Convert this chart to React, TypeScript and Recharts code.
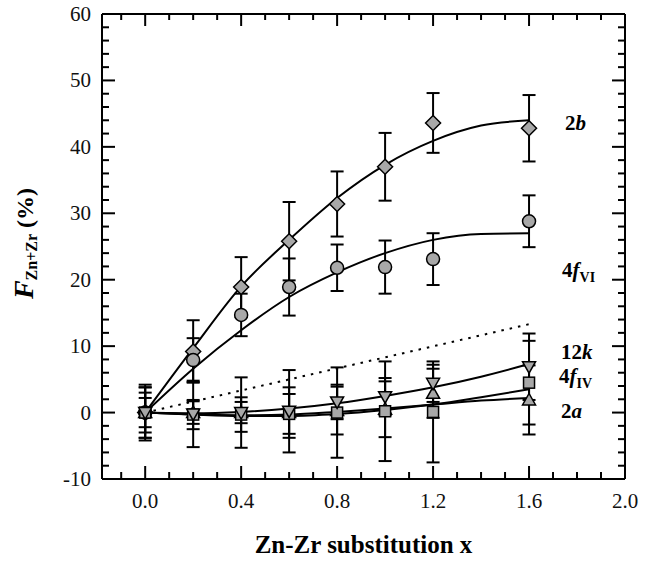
import React from "react";
import { ComposedChart, XAxis, YAxis, Line, Scatter, ErrorBar, ReferenceDot } from "recharts";

// measured points
const xs = [0, 0.2, 0.4, 0.6, 0.8, 1.0, 1.2, 1.6];
const site2b = [0, 9.2, 18.9, 25.8, 31.4, 37.0, 43.6, 42.8];
const site2bErr = [3.8, 4.7, 4.5, 5.9, 4.9, 5.1, 4.5, 5.0];
const site4fVI = [0, 7.9, 14.7, 18.9, 21.8, 21.9, 23.1, 28.8];
const site4fVIErr = [3.8, 3.3, 3.2, 4.3, 3.5, 4.0, 3.9, 3.9];
const site12k = [0, -0.2, 0, 0.2, 1.6, 2.4, 4.4, 6.9];
const site12kErr = [4.2, 5.0, 5.3, 6.2, 2.6, 2.8, 2.8, 5.0];
const site4fIV = [0, -0.3, -0.3, -0.2, 0, 0.2, 0.1, 4.5];
const site4fIVErr = [3.0, 2.2, 2.6, 3.0, 6.8, 7.5, 7.6, 6.3];
const site2a = [0, 0, 0, 0, 0.3, 0.5, 2.9, 1.9];
const site2aErr = [2.2, 1.7, 1.6, 3.8, 3.6, 4.2, 3.7, 5.2];

// fitted curves
const fitXs = [0, 0.2, 0.4, 0.6, 0.8, 1.0, 1.2, 1.4, 1.6];
const fit2b = [0, 9.7, 19.0, 26.0, 32.3, 37.3, 40.9, 43.2, 44.0];
const fit4fVI = [0, 6.6, 12.4, 17.4, 21.1, 24.0, 26.0, 26.9, 27.0];
const fit12k = [0, -0.1, 0.1, 0.6, 1.4, 2.5, 3.8, 5.4, 7.3];
const fit4fIV = [0, -0.3, -0.5, -0.5, -0.2, 0.4, 1.2, 2.3, 3.5];
const fit2a = [0, -0.3, -0.4, -0.3, 0.1, 0.6, 1.2, 1.8, 2.2];
const dottedXs = [0, 1.6];
const dotted = [0, 13.3];

const xTicks = [-0.1, 0, 0.1, 0.2, 0.3, 0.4, 0.5, 0.6, 0.7, 0.8, 0.9, 1.0, 1.1, 1.2, 1.3, 1.4, 1.5, 1.6, 1.7, 1.8, 1.9, 2.0];
const yTicks = [-10, -8, -6, -4, -2, 0, 2, 4, 6, 8, 10, 12, 14, 16, 18, 20, 22, 24, 26, 28, 30, 32, 34, 36, 38, 40, 42, 44, 46, 48, 50, 52, 54, 56, 58, 60];

const pts = (ys: number[], errs: number[]) => xs.map((x, i) => ({ x, y: ys[i], err: errs[i] }));
const curve = (px: number[], ys: number[]) => px.map((x, i) => ({ x, y: ys[i] }));

const FONT = "Liberation Serif, DejaVu Serif, serif";
const GRAY = "#a8a8a8";
const serif = { fontFamily: FONT };

const isMajorX = (v: number) => Math.round(v * 10) % 4 === 0;

const BottomTick = (p: any) => {
  const v = p.payload.value;
  const major = isMajorX(v);
  const y0 = p.y - 1;
  return (
    <g>
      <line x1={p.x} y1={y0} x2={p.x} y2={y0 - (major ? 12 : 6)} stroke="#000" strokeWidth={2} />
      {major && (
        <text x={p.x} y={y0 + 30} textAnchor="middle" style={serif} fontSize={21} fill="#111">
          {v.toFixed(1)}
        </text>
      )}
    </g>
  );
};

const TopTick = (p: any) => {
  const major = isMajorX(p.payload.value);
  return <line x1={p.x} y1={p.y} x2={p.x} y2={p.y + (major ? 12 : 6)} stroke="#000" strokeWidth={2} />;
};

const LeftTick = (p: any) => {
  const v = p.payload.value;
  const major = v % 10 === 0;
  return (
    <g>
      <line x1={p.x} y1={p.y} x2={p.x + (major ? 13 : 7)} y2={p.y} stroke="#000" strokeWidth={2} />
      {major && (
        <text x={p.x - 11} y={p.y + 7} textAnchor="end" style={serif} fontSize={21} fill="#111">
          {v}
        </text>
      )}
    </g>
  );
};

const RightTick = (p: any) => {
  const major = p.payload.value % 10 === 0;
  return <line x1={p.x} y1={p.y} x2={p.x - (major ? 13 : 7)} y2={p.y} stroke="#000" strokeWidth={2} />;
};

const Diamond = (p: any) => (
  <path d={`M${p.cx},${p.cy - 7.5}L${p.cx + 7.5},${p.cy}L${p.cx},${p.cy + 7.5}L${p.cx - 7.5},${p.cy}Z`} fill={GRAY} stroke="#000" strokeWidth={1.5} />
);
const Circle = (p: any) => <circle cx={p.cx} cy={p.cy} r={6.5} fill={GRAY} stroke="#000" strokeWidth={1.5} />;
const Square = (p: any) => <rect x={p.cx - 5.5} y={p.cy - 5.5} width={11} height={11} fill={GRAY} stroke="#000" strokeWidth={1.5} />;
const TriDown = (p: any) => (
  <path d={`M${p.cx - 6.5},${p.cy - 5}L${p.cx + 6.5},${p.cy - 5}L${p.cx},${p.cy + 6.5}Z`} fill={GRAY} stroke="#000" strokeWidth={1.5} />
);
const TriUp = (p: any) => (
  <path d={`M${p.cx - 6.5},${p.cy + 5}L${p.cx + 6.5},${p.cy + 5}L${p.cx},${p.cy - 6.5}Z`} fill={GRAY} stroke="#000" strokeWidth={1.5} />
);

const siteLabel = (dx: number, main: string, ital: string, sub?: string) => (props: any) => {
  const vb = props.viewBox;
  return (
    <text x={vb.x + dx} y={vb.y + 7} style={serif} fontWeight="bold" fontSize={21} fill="#000">
      {main}
      <tspan fontStyle="italic">{ital}</tspan>
      {sub && (
        <tspan fontSize={14} dy={5}>
          {sub}
        </tspan>
      )}
    </text>
  );
};

const XTitle = (props: any) => {
  const vb = props.viewBox;
  return (
    <text x={vb.x + vb.width / 2} y={479 + 74} textAnchor="middle" style={serif} fontWeight="bold" fontSize={25} fill="#000">
      Zn-Zr substitution x
    </text>
  );
};

const YTitle = (props: any) => {
  const vb = props.viewBox;
  const cx = 33;
  const cy = vb.y + vb.height / 2 - 3;
  return (
    <text transform={`translate(${cx},${cy}) rotate(-90)`} textAnchor="middle" style={serif} fontWeight="bold" fill="#000">
      <tspan fontStyle="italic" fontSize={28}>F</tspan>
      <tspan fontSize={16} dy={4}>Zn+Zr</tspan>
      <tspan fontSize={24} dy={-4}>{" (%)"}</tspan>
    </text>
  );
};

const series = [
  { name: "2b", data: pts(site2b, site2bErr), shape: Diamond },
  { name: "4fVI", data: pts(site4fVI, site4fVIErr), shape: Circle },
  { name: "2a", data: pts(site2a, site2aErr), shape: TriUp },
  { name: "4fIV", data: pts(site4fIV, site4fIVErr), shape: Square },
  { name: "12k", data: pts(site12k, site12kErr), shape: TriDown },
];

const fits = [
  curve(fitXs, fit2b),
  curve(fitXs, fit4fVI),
  curve(fitXs, fit12k),
  curve(fitXs, fit4fIV),
  curve(fitXs, fit2a),
];

export default function App() {
  return (
    <div style={{ position: "absolute", left: 0, top: 0, width: 657, height: 561, background: "#fff", fontFamily: FONT }}>
      <ComposedChart width={657} height={561} margin={{ top: 13, right: 31, bottom: 81, left: 101 }}>
        <XAxis
          xAxisId="b"
          type="number"
          dataKey="x"
          domain={[-0.18, 2.0]}
          allowDataOverflow
          ticks={xTicks}
          interval={0}
          height={1}
          tickSize={0}
          tickMargin={0}
          tickLine={false}
          tick={<BottomTick />}
          axisLine={{ stroke: "#000", strokeWidth: 2 }}
          label={{ content: <XTitle /> }}
        />
        <XAxis
          xAxisId="t"
          orientation="top"
          type="number"
          dataKey="x"
          domain={[-0.18, 2.0]}
          allowDataOverflow
          ticks={xTicks}
          interval={0}
          height={1}
          tickSize={0}
          tickMargin={0}
          tickLine={false}
          tick={<TopTick />}
          axisLine={{ stroke: "#000", strokeWidth: 2 }}
        />
        <YAxis
          yAxisId="l"
          type="number"
          domain={[-10, 60]}
          allowDataOverflow
          ticks={yTicks}
          interval={0}
          width={1}
          tickSize={0}
          tickMargin={0}
          tickLine={false}
          tick={<LeftTick />}
          axisLine={{ stroke: "#000", strokeWidth: 2 }}
          label={{ content: <YTitle /> }}
        />
        <YAxis
          yAxisId="r"
          orientation="right"
          type="number"
          domain={[-10, 60]}
          allowDataOverflow
          ticks={yTicks}
          interval={0}
          width={1}
          tickSize={0}
          tickMargin={0}
          tickLine={false}
          tick={<RightTick />}
          axisLine={{ stroke: "#000", strokeWidth: 2 }}
        />
        <Line
          xAxisId="b"
          yAxisId="l"
          data={curve(dottedXs, dotted)}
          dataKey="y"
          type="linear"
          stroke="#000"
          strokeWidth={2}
          strokeDasharray="2.5 6"
          dot={false}
          isAnimationActive={false}
        />
        {fits.map((d, i) => (
          <Line
            key={"fit" + i}
            xAxisId="b"
            yAxisId="l"
            data={d}
            dataKey="y"
            type="monotone"
            stroke="#000"
            strokeWidth={2}
            dot={false}
            isAnimationActive={false}
          />
        ))}
        {series.map((s) => (
          <Scatter
            key={s.name}
            xAxisId="b"
            yAxisId="l"
            data={s.data}
            dataKey="y"
            shape={s.shape}
            isAnimationActive={false}
          >
            <ErrorBar dataKey="err" direction="y" width={6.5} stroke="#000" strokeWidth={2} />
          </Scatter>
        ))}
        <ReferenceDot xAxisId="b" yAxisId="l" x={1.6} y={43.6} r={0} stroke="none" fill="none" label={{ content: siteLabel(36, "2", "b") }} />
        <ReferenceDot xAxisId="b" yAxisId="l" x={1.6} y={21.5} r={0} stroke="none" fill="none" label={{ content: siteLabel(33, "4", "f", "VI") }} />
        <ReferenceDot xAxisId="b" yAxisId="l" x={1.6} y={9.1} r={0} stroke="none" fill="none" label={{ content: siteLabel(32, "12", "k") }} />
        <ReferenceDot xAxisId="b" yAxisId="l" x={1.6} y={5.5} r={0} stroke="none" fill="none" label={{ content: siteLabel(30, "4", "f", "IV") }} />
        <ReferenceDot xAxisId="b" yAxisId="l" x={1.6} y={0.2} r={0} stroke="none" fill="none" label={{ content: siteLabel(32, "2", "a") }} />
      </ComposedChart>
    </div>
  );
}
